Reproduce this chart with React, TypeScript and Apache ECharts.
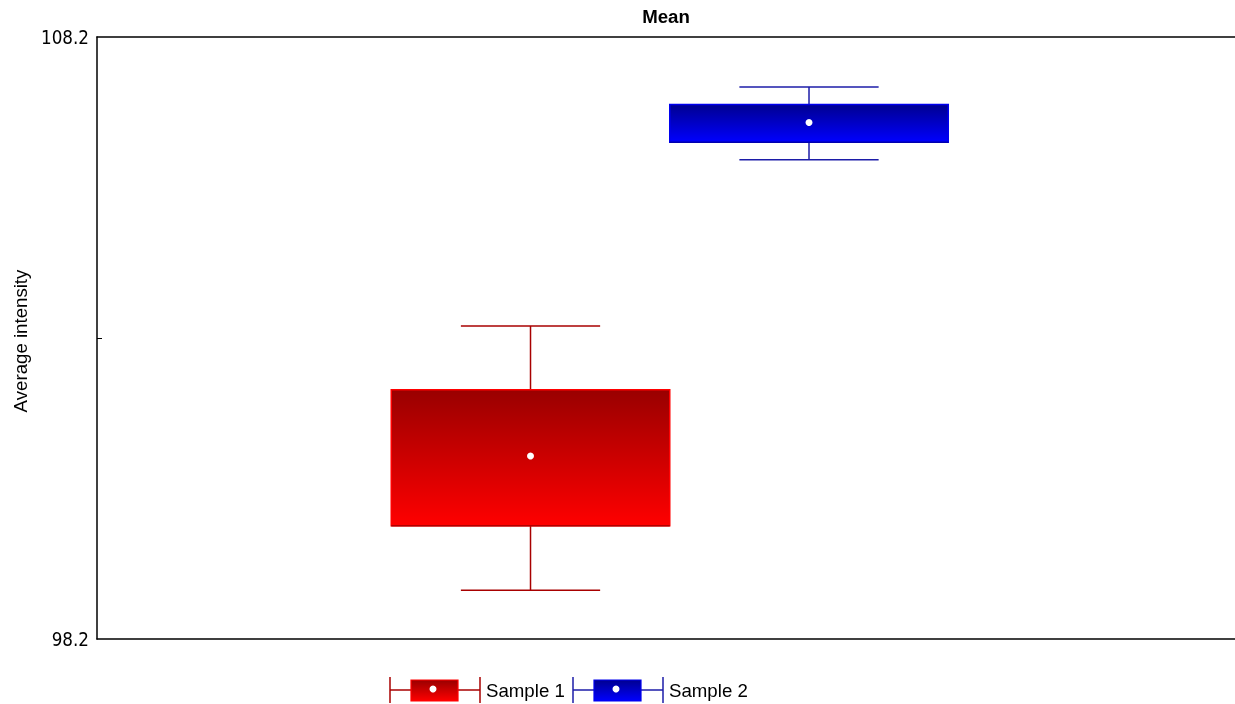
import React, { useEffect, useRef } from "react";
import * as echarts from "echarts";

const samples = ["Sample 1", "Sample 2"];
const whiskerLow = [99.01, 106.16];
const boxLow = [100.08, 106.45];
const means = [101.24, 106.78];
const boxHigh = [102.34, 107.08];
const whiskerHigh = [103.4, 107.37];

const yMin = 98.2;
const yMax = 108.2;
const yLabelValues = [98.2, 108.2];
const yTickValues = [103.2];

const palettes = [
  { top: "#990000", bottom: "#ff0000", edge: "#ff0000", edgeBottom: "#b00000", whisker: "#a80000" },
  { top: "#000090", bottom: "#0000ff", edge: "#0000ee", edgeBottom: "#0000b0", whisker: "#1c1ca8" },
];

const grad = (p: any) =>
  new echarts.graphic.LinearGradient(0, 0, 0, 1, [
    { offset: 0, color: p.top },
    { offset: 1, color: p.bottom },
  ]);

export default function App() {
  const ref = useRef<HTMLDivElement>(null);
  useEffect(() => {
    if (!ref.current) return;
    const chart = echarts.init(ref.current, undefined, { renderer: "svg" });
    const data = samples.map((_, i) => [i, whiskerLow[i], boxLow[i], means[i], boxHigh[i], whiskerHigh[i]]);

    const legendItems: any[] = [];
    const legendX = [390, 573];
    samples.forEach((s, i) => {
      const p = palettes[i];
      const x0 = legendX[i];
      const cy = 690;
      legendItems.push(
        { type: "line", shape: { x1: x0, y1: cy, x2: x0 + 90, y2: cy }, style: { stroke: p.whisker, lineWidth: 1.5 } },
        { type: "line", shape: { x1: x0, y1: cy - 13, x2: x0, y2: cy + 13 }, style: { stroke: p.whisker, lineWidth: 1.5 } },
        { type: "line", shape: { x1: x0 + 90, y1: cy - 13, x2: x0 + 90, y2: cy + 13 }, style: { stroke: p.whisker, lineWidth: 1.5 } },
        { type: "rect", shape: { x: x0 + 21, y: cy - 10, width: 47, height: 21 }, style: { fill: grad(p), stroke: p.edge, lineWidth: 1.2 } },
        { type: "circle", shape: { cx: x0 + 43, cy: cy - 1, r: 3.5 }, style: { fill: "#ffffff" } },
        {
          type: "text",
          x: x0 + 96,
          y: cy,
          style: { text: s, fill: "#000", font: "18.67px 'Liberation Sans', Arial, sans-serif", verticalAlign: "middle", align: "left" },
        }
      );
    });

    chart.setOption({
      animation: false,
      grid: { left: 97, top: 37, right: 0, bottom: 65 },
      xAxis: [
        {
          type: "value",
          min: -1.5566,
          max: 2.5296,
          position: "bottom",
          axisLine: { show: true, onZero: false, lineStyle: { color: "#000", width: 1.5 } },
          axisTick: { show: false },
          axisLabel: { show: false },
          splitLine: { show: false },
        },
        {
          type: "value",
          min: -1.5566,
          max: 2.5296,
          position: "top",
          axisLine: { show: true, onZero: false, lineStyle: { color: "#000", width: 1.5 } },
          axisTick: { show: false },
          axisLabel: { show: false },
          splitLine: { show: false },
        },
      ],
      yAxis: {
        type: "value",
        min: yMin,
        max: yMax,
        axisLine: { show: true, onZero: false, lineStyle: { color: "#000", width: 1.5 } },
        axisTick: { show: true, inside: true, length: 5, customValues: yTickValues, lineStyle: { color: "#000", width: 1 } },
        axisLabel: {
          show: true,
          customValues: yLabelValues,
          margin: 8,
          color: "#000",
          fontSize: 18.67,
          fontFamily: "'DejaVu Sans Condensed', 'Noto Sans', sans-serif",
          formatter: (v: number) => v.toFixed(1),
        },
        splitLine: { show: false },
      },
      graphic: [
        {
          type: "text",
          x: 666,
          y: 16,
          style: { text: "Mean", fill: "#000", font: "bold 18.67px 'Liberation Sans', Arial, sans-serif", align: "center", verticalAlign: "middle" },
        },
        {
          type: "text",
          x: 20,
          y: 341,
          rotation: Math.PI / 2,
          style: { text: "Average intensity", fill: "#000", font: "18.67px 'Liberation Sans', Arial, sans-serif", align: "center", verticalAlign: "middle" },
        },
        ...legendItems,
      ],
      series: [
        {
          type: "custom",
          xAxisIndex: 0,
          data,
          renderItem: (params: any, api: any) => {
            const x = api.value(0);
            const p = palettes[params.dataIndex];
            const unit = api.size([1, 0])[0];
            const boxHalf = unit * 0.5;
            const whiskHalf = unit * 0.25;
            const [cx, yWL] = api.coord([x, api.value(1)]);
            const yBL = api.coord([x, api.value(2)])[1];
            const yMean = api.coord([x, api.value(3)])[1];
            const yBH = api.coord([x, api.value(4)])[1];
            const yWH = api.coord([x, api.value(5)])[1];
            const wStyle = { stroke: p.whisker, lineWidth: 1.5 };
            return {
              type: "group",
              children: [
                { type: "line", shape: { x1: cx, y1: yWL, x2: cx, y2: yBL }, style: wStyle },
                { type: "line", shape: { x1: cx, y1: yBH, x2: cx, y2: yWH }, style: wStyle },
                { type: "line", shape: { x1: cx - whiskHalf, y1: yWL, x2: cx + whiskHalf, y2: yWL }, style: wStyle },
                { type: "line", shape: { x1: cx - whiskHalf, y1: yWH, x2: cx + whiskHalf, y2: yWH }, style: wStyle },
                {
                  type: "rect",
                  shape: { x: cx - boxHalf, y: yBH, width: boxHalf * 2, height: yBL - yBH },
                  style: { fill: grad(p), stroke: p.edge, lineWidth: 1.5 },
                },
                { type: "line", shape: { x1: cx - boxHalf, y1: yBL, x2: cx + boxHalf, y2: yBL }, style: { stroke: p.edgeBottom, lineWidth: 1.5 } },
                { type: "circle", shape: { cx, cy: yMean, r: 3.5 }, style: { fill: "#ffffff" } },
              ],
            };
          },
        },
      ],
    });
    return () => chart.dispose();
  }, []);
  return <div ref={ref} style={{ position: "fixed", left: 0, top: 0, width: 1235, height: 704 }} />;
}
